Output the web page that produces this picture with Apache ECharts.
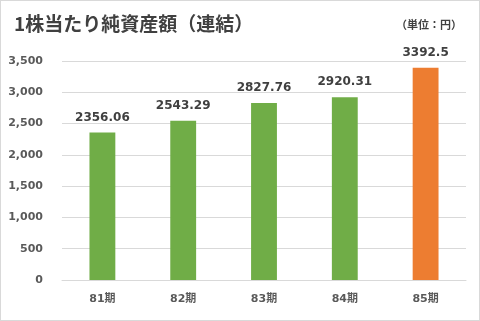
<!DOCTYPE html>
<html>
<head>
<meta charset="utf-8">
<script src="https://cdn.jsdelivr.net/npm/echarts@6/dist/echarts.min.js"></script>
<style>
html, body { margin: 0; padding: 0; background: #fff; }
#chart { width: 478px; height: 319px; border: 1px solid #d9d9d9; }
</style>
</head>
<body>
<div id="chart"></div>
<script>
// 期別 1株当たり純資産額（連結）
const categories = ['81期', '82期', '83期', '84期', '85期']
const values = [2356.06, 2543.29, 2827.76, 2920.31, 3392.5]
const barColors = ['#70AD47', '#70AD47', '#70AD47', '#70AD47', '#ED7D31']

const cjk = "'Noto Sans CJK JP', sans-serif"
const font = "'DejaVu Sans', 'Noto Sans CJK JP', sans-serif"
let myChart = echarts.init(document.getElementById('chart'))
let option = {
    animation: false,
    title: [
        {
            text: '1株当たり純資産額（連結）',
            left: 8,
            top: 8,
            textStyle: { fontFamily: cjk, fontSize: 19, fontWeight: 'bold', color: '#404040' }
        },
        {
            text: '（単位：円）',
            right: 12,
            top: 13,
            textStyle: { fontFamily: cjk, fontSize: 11, fontWeight: 'bold', color: '#404040' }
        }
    ],
    grid: {
        left: 61,
        right: 13,
        top: 60,
        bottom: 40
    },
    xAxis: {
        type: 'category',
        data: categories,
        axisTick: { show: false },
        axisLine: { lineStyle: { color: '#d9d9d9' } },
        axisLabel: { fontFamily: font, fontSize: 11, fontWeight: 'bold', color: '#595959', margin: 14 }
    },
    yAxis: {
        type: 'value',
        min: 0,
        max: 3500,
        interval: 500,
        axisLine: { show: false },
        axisTick: { show: false },
        splitLine: { lineStyle: { color: '#d9d9d9' } },
        axisLabel: {
            fontFamily: font, fontSize: 11, fontWeight: 'bold', color: '#595959', margin: 19,
            formatter: v => v.toLocaleString('en-US')
        }
    },
    series: [
        {
            type: 'bar',
            data: values.map((v, i) => ({ value: v, itemStyle: { color: barColors[i] } })),
            barWidth: '32%',
            label: {
                show: true,
                position: 'top',
                distance: 9,
                fontFamily: font,
                fontSize: 12,
                fontWeight: 'bold',
                color: '#404040'
            }
        }
    ]
}
myChart.setOption(option)
</script>
</body>
</html>
